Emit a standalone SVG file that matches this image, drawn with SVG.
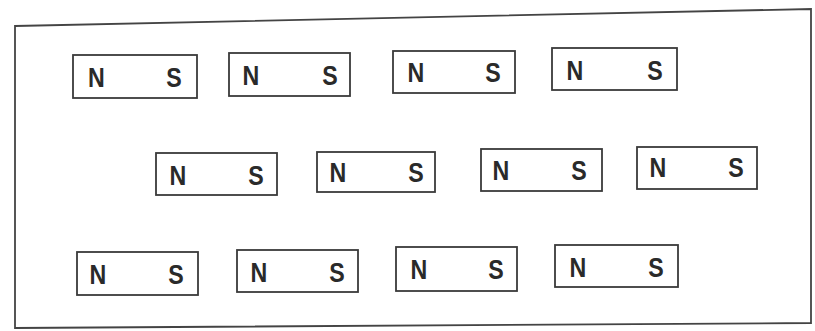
<svg xmlns="http://www.w3.org/2000/svg" width="815" height="331" viewBox="0 0 815 331">
<style>
.m rect{fill:none;stroke:#3a3a3a;stroke-width:1.8}
.m text{font-family:"Liberation Sans",Arial,sans-serif;font-size:27px;font-weight:bold;fill:#2a2a2a;text-anchor:middle}
</style>
<rect width="815" height="331" fill="#fff"/>
<path d="M15,26 L811,9 L811,323 L15,328 Z" fill="none" stroke="#444" stroke-width="1.8"/>
<g id="m1" class="m"><rect x="73" y="55" width="124" height="43"/><text transform="translate(96.5,87) scale(0.86,1)">N</text><text transform="translate(174,87) scale(0.86,1)">S</text></g>
<g id="m2" class="m"><rect x="229" y="53" width="121" height="43"/><text transform="translate(251,85) scale(0.86,1)">N</text><text transform="translate(330,85) scale(0.86,1)">S</text></g>
<g id="m3" class="m"><rect x="393" y="51" width="122" height="42"/><text transform="translate(416,82) scale(0.86,1)">N</text><text transform="translate(493,82) scale(0.86,1)">S</text></g>
<g id="m4" class="m"><rect x="552" y="48" width="125" height="42"/><text transform="translate(575,80) scale(0.86,1)">N</text><text transform="translate(655,80) scale(0.86,1)">S</text></g>
<g id="m5" class="m"><rect x="156" y="153" width="121" height="42"/><text transform="translate(178,185) scale(0.86,1)">N</text><text transform="translate(256,185) scale(0.86,1)">S</text></g>
<g id="m6" class="m"><rect x="317" y="152" width="118" height="40"/><text transform="translate(338,182) scale(0.86,1)">N</text><text transform="translate(416,182) scale(0.86,1)">S</text></g>
<g id="m7" class="m"><rect x="481" y="149" width="121" height="42"/><text transform="translate(501,180) scale(0.86,1)">N</text><text transform="translate(579,180) scale(0.86,1)">S</text></g>
<g id="m8" class="m"><rect x="637" y="147" width="120" height="42"/><text transform="translate(658,177) scale(0.86,1)">N</text><text transform="translate(736,177) scale(0.86,1)">S</text></g>
<g id="m9" class="m"><rect x="77" y="252" width="121" height="43"/><text transform="translate(98,284) scale(0.86,1)">N</text><text transform="translate(176,284) scale(0.86,1)">S</text></g>
<g id="m10" class="m"><rect x="237" y="250" width="121" height="42"/><text transform="translate(259,282) scale(0.86,1)">N</text><text transform="translate(337,282) scale(0.86,1)">S</text></g>
<g id="m11" class="m"><rect x="396" y="247" width="121" height="44"/><text transform="translate(419,279) scale(0.86,1)">N</text><text transform="translate(496,279) scale(0.86,1)">S</text></g>
<g id="m12" class="m"><rect x="555" y="245" width="123" height="42"/><text transform="translate(578,277) scale(0.86,1)">N</text><text transform="translate(656,277) scale(0.86,1)">S</text></g>
<g id="connectors"/>
</svg>
